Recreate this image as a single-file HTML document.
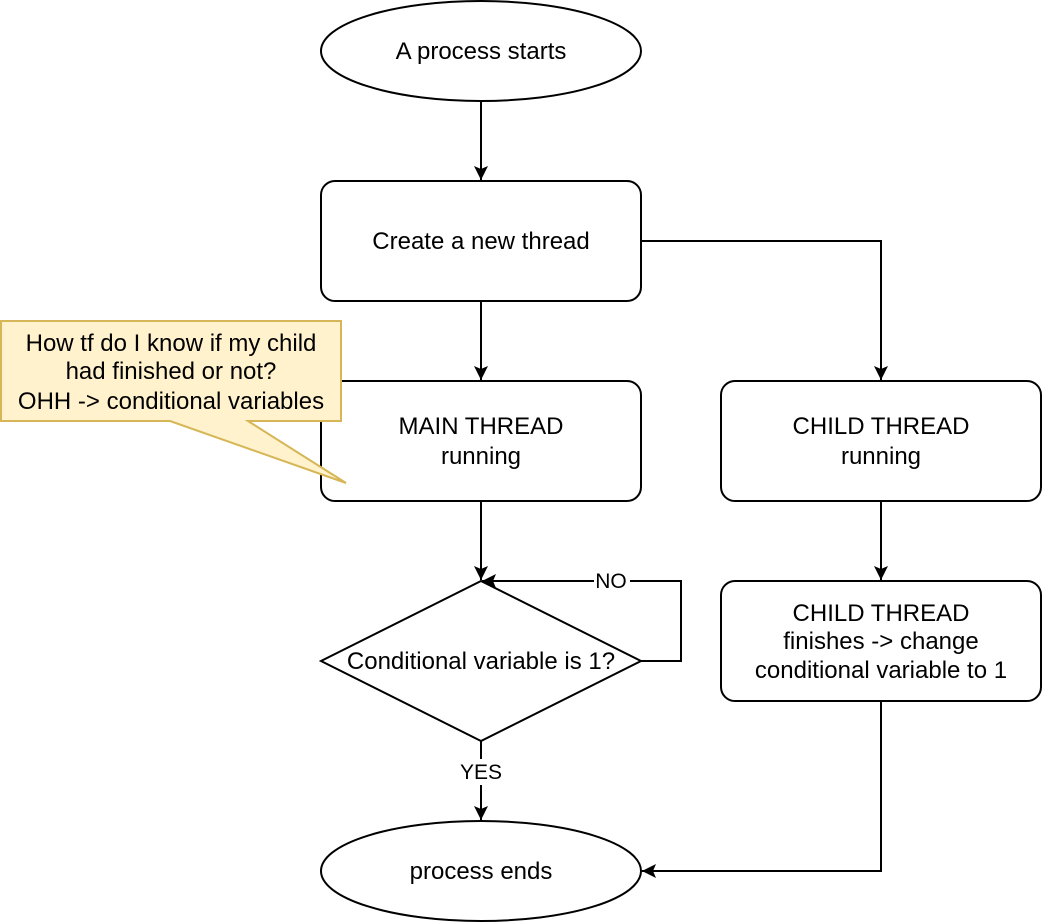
<!DOCTYPE html>
<html><head><meta charset="utf-8"><style>
html,body{margin:0;padding:0;background:#fff;}
svg{display:block;}
text{font-family:"Liberation Sans",Helvetica,Arial,sans-serif;fill:#000;}
.t{font-size:24px;}
.l{font-size:21px;}
</style></head><body>
<svg width="1042" height="922" viewBox="0 0 1042 922" xmlns="http://www.w3.org/2000/svg">
<defs>
<marker id="a" markerWidth="16" markerHeight="16" refX="14" refY="7" orient="auto" markerUnits="userSpaceOnUse">
<path d="M0,0 L14,7 L0,14 L3,7 Z" fill="#000"/>
</marker>
</defs>
<g fill="none" stroke="#000" stroke-width="2">
<path d="M481,101 V180" marker-end="url(#a)"/>
<path d="M481,301 V380" marker-end="url(#a)"/>
<path d="M641,241 H881 V380" marker-end="url(#a)"/>
<path d="M481,501 V580" marker-end="url(#a)"/>
<path d="M881,501 V580" marker-end="url(#a)"/>
<path d="M641,661 H681 V581 H482" marker-end="url(#a)"/>
<path d="M481,741 V820" marker-end="url(#a)"/>
<path d="M881,701 V871 H642" marker-end="url(#a)"/>
</g>
<g fill="#fff" stroke="#000" stroke-width="2">
<ellipse cx="481" cy="51" rx="160" ry="50"/>
<rect x="321" y="181" width="320" height="120" rx="14"/>
<rect x="321" y="381" width="320" height="120" rx="14"/>
<rect x="721" y="381" width="320" height="120" rx="14"/>
<rect x="721" y="581" width="320" height="120" rx="14"/>
<path d="M481,581 L641,661 L481,741 L321,661 Z"/>
<ellipse cx="481" cy="871" rx="160" ry="50"/>
</g>
<path d="M1,321 H341 V421 H248 L346,483 L170,421 H1 Z" fill="#fff2cc" stroke="#d6b656" stroke-width="2"/>
<rect x="594" y="570" width="36" height="22" fill="#fff"/>
<rect x="458" y="759" width="46" height="26" fill="#fff"/>
<g class="t" text-anchor="middle">
<text x="481" y="59">A process starts</text>
<text x="481" y="249">Create a new thread</text>
<text x="481" y="434">MAIN THREAD</text>
<text x="481" y="464">running</text>
<text x="881" y="434">CHILD THREAD</text>
<text x="881" y="464">running</text>
<text x="881" y="621">CHILD THREAD</text>
<text x="881" y="649">finishes -&gt; change</text>
<text x="881" y="678">conditional variable to 1</text>
<text x="481" y="669">Conditional variable is 1?</text>
<text x="481" y="879">process ends</text>
<text x="171" y="351">How tf do I know if my child</text>
<text x="171" y="379">had finished or not?</text>
<text x="171" y="409">OHH -&gt; conditional variables</text>
</g>
<g class="l" text-anchor="middle">
<text x="611" y="588">NO</text>
<text x="481" y="779">YES</text>
</g>
</svg>
</body></html>
